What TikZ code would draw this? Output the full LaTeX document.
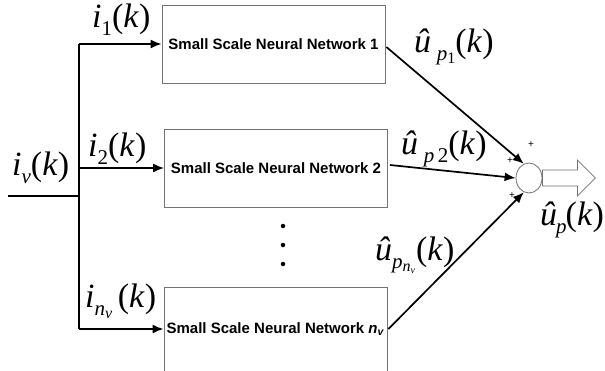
\documentclass[tikz,border=0pt]{standalone}
\usepackage{fontspec}
\newfontfamily\boxfont{Liberation Sans}
\newfontfamily\tnr{Liberation Serif}
\usetikzlibrary{arrows.meta,shapes.geometric}

% signal label helpers
\newcommand\sigfont{\tnr\fontsize{34}{36}\selectfont}
\newcommand\lowsub[1]{\raisebox{-8pt}{\fontsize{21}{21}\selectfont #1}}
\newcommand\lowsubsub[1]{\raisebox{-3pt}{\fontsize{16}{16}\selectfont #1}}
\newcommand\tinysub[1]{\raisebox{-2pt}{\fontsize{10}{10}\selectfont #1}}

\tikzset{
  nnbox/.style={draw=black!55, line width=0.8pt, fill=white, inner sep=0pt,
    minimum width=223pt, minimum height=78pt,
    font=\boxfont\bfseries\fontsize{15}{18}\selectfont},
  sig/.style={line width=1.7pt, -{Latex[length=11pt,width=9pt]}},
  wire/.style={line width=1.7pt},
  lbl/.style={inner sep=0pt, anchor=base west, font=\sigfont},
  plus/.style={inner sep=0pt, font=\boxfont\fontsize{10}{10}\selectfont},
  sumnode/.style={draw=black!55, line width=0.8pt, fill=white, ellipse,
    minimum width=26pt, minimum height=30pt, inner sep=0pt},
  hollow/.style={draw=black!55, line width=0.8pt, fill=white, line join=miter},
  dot/.style={circle, fill=black, inner sep=0pt, minimum size=4.5pt}
}

\begin{document}
\begin{tikzpicture}[x=1pt, y=-1pt]
  \clip (0,0) rectangle (605,370);
  \fill[white] (0,0) rectangle (605,370);

  % three small networks
  \node[nnbox] (nn1) at (273.5,44) {Small Scale Neural Network 1};
  \node[nnbox] (nn2) at (276,168) {Small Scale Neural Network 2};
  \node[nnbox, minimum height=84pt] (nn3) at (275.5,329)
    {Small Scale Neural Network \textit{n}\textsubscript{\textit{v}}};

  % input distribution
  \coordinate (in) at (8,196);
  \coordinate (split) at (79,196);
  \coordinate (b1) at (79,44);
  \coordinate (b3) at (79,329);
  \draw[wire] (in) -- (split);
  \draw[wire] (b1) -- (b3);
  \draw[sig] (b1) -- (nn1.west);
  \draw[sig] (split |- nn2.west) -- (nn2.west);
  \draw[sig] (b3) -- (nn3.west);

  % summing junction and hollow output arrow
  \node[sumnode] (sum) at (529,178) {};
  \coordinate (out) at (sum.east);
  \draw[hollow] (out) ++(0,-8) -- ++(35,0) -- ++(0,-10) -- ++(18,18)
    -- ++(-18,18) -- ++(0,-10) -- ++(-35,0) -- cycle;

  \coordinate (o1) at ([yshift=-3pt, xshift=1pt]nn1.east);
  \coordinate (o2) at ([yshift=3pt, xshift=2pt]nn2.east);
  \draw[sig] (o1) -- (sum.110);
  \draw[sig] (o2) -- (sum.west);
  \draw[sig] ([xshift=1pt]nn3.east) -- (sum.250);

  \node[plus] (p1) at (531,145) {+};
  \node[plus] (p2) at (510,161) {+};
  \node[plus] (p3) at (512,196) {+};

  % continuation dots
  \node[dot] (d1) at (283,226) {};
  \node[dot] (d2) at (283,245) {};
  \node[dot] (d3) at (283,264) {};

  % signal labels
  \node[lbl] (liv) at (12,175) {\textit{i}\lowsub{\textit{v}}(\textit{k})};
  \node[lbl] (li1) at (92,27) {\textit{i}\lowsub{1}(\textit{k})};
  \node[lbl] (li2) at (88,156) {\textit{i}\lowsub{2}(\textit{k})};
  \node[lbl] (lin) at (85,307)
    {\textit{i}\lowsub{\textit{n}\lowsubsub{\textit{v}}}\,(\textit{k})};
  \node[lbl] (lu1) at (414,52)
    {\textit{û}\,\lowsub{\textit{p}\lowsubsub{1}}(\textit{k})};
  \node[lbl] (lu2) at (401,154)
    {\textit{û}\,\lowsub{\textit{p}\,2}(\textit{k})};
  \node[lbl] (lun) at (375,260)
    {\textit{û}\lowsub{\textit{p}\lowsubsub{\textit{n}\tinysub{\textit{v}}}}\kern1pt(\textit{k})};
  \node[lbl] (lup) at (540,225) {\textit{û}\kern-1pt\lowsub{\textit{p}}\kern-1pt(\textit{k})};
\end{tikzpicture}
\end{document}
